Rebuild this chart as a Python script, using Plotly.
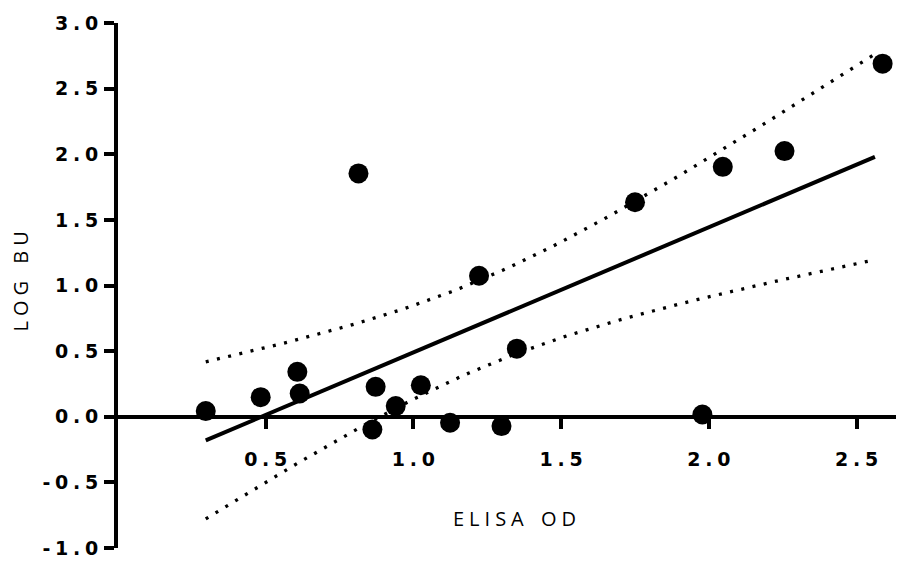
import numpy as np
import plotly.graph_objects as go

# ---- data ----
elisa_od = [0.297, 0.483, 0.607, 0.615, 0.814, 0.872, 0.861, 0.940, 1.025,
            1.124, 1.222, 1.298, 1.350, 1.750, 1.978, 2.047, 2.256, 2.588]
log_bu = [0.043, 0.149, 0.342, 0.177, 1.854, 0.228, -0.097, 0.081, 0.240,
          -0.046, 1.074, -0.071, 0.519, 1.634, 0.017, 1.904, 2.024, 2.690]

# x extent over which the fit and its 95% confidence band are drawn
fit_x_range = [0.297, 2.562]
t95 = 2.1199  # Student t, 95% two-sided, df = n - 2 = 16

x_tickvals = [0.5, 1.0, 1.5, 2.0, 2.5]
x_ticktext = ["0.5", "1.0", "1.5", "2.0", "2.5"]
y_tickvals = [-1.0, -0.5, 0.0, 0.5, 1.0, 1.5, 2.0, 2.5, 3.0]
y_ticktext = ["-1.0", "-0.5", "0.0", "0.5", "1.0", "1.5", "2.0", "2.5", "3.0"]

x_title = "ELISA OD"
y_title = "LOG BU"


# ---- helpers ----
def spaced(s, sp="\u2005", word=" \u2002\u200a"):
    out = []
    for i, ch in enumerate(s):
        if ch == " ":
            out.append(word)
            continue
        out.append(ch)
        if i < len(s) - 1 and s[i + 1] != " ":
            out.append(sp)
    return "".join(out)


# ---- linear regression with 95% confidence band ----
x = np.array(elisa_od)
y = np.array(log_bu)
n = len(x)
slope, intercept = np.polyfit(x, y, 1)
resid = y - (slope * x + intercept)
s = np.sqrt(np.sum(resid ** 2) / (n - 2))
sxx = np.sum((x - x.mean()) ** 2)
xf = np.linspace(fit_x_range[0], fit_x_range[1], 80)
yf = slope * xf + intercept
half = t95 * s * np.sqrt(1.0 / n + (xf - x.mean()) ** 2 / sxx)

fig = go.Figure()
dot_line = dict(color="black", width=3.3, dash="3px,8.5px")
fig.add_trace(go.Scatter(x=xf, y=yf + half, mode="lines", line=dot_line,
                         hoverinfo="skip", showlegend=False))
fig.add_trace(go.Scatter(x=xf, y=yf - half, mode="lines", line=dot_line,
                         hoverinfo="skip", showlegend=False))
fig.add_trace(go.Scatter(x=xf, y=yf, mode="lines",
                         line=dict(color="black", width=4),
                         hoverinfo="skip", showlegend=False))
fig.add_trace(go.Scatter(x=elisa_od, y=log_bu, mode="markers",
                         marker=dict(color="black", size=20, line=dict(width=0)),
                         showlegend=False))

tick_font = dict(family="DejaVu Sans", size=19, color="black", weight="bold")
title_font = dict(family="Open Sans", size=20, color="black")

# page body has an 8px margin: the figure is sized/offset to compensate
fig.update_layout(
    width=896, height=553,
    margin=dict(l=110, r=1, t=15, b=13),
    paper_bgcolor="white", plot_bgcolor="white",
    showlegend=False,
    xaxis=dict(
        range=[0, 2.657], anchor="free", position=0.25,
        showline=True, linecolor="black", linewidth=3.5,
        ticks="outside", ticklen=10, tickwidth=3.5, tickcolor="black",
        tickvals=x_tickvals, ticktext=[spaced(t) for t in x_ticktext],
        tickfont=tick_font, ticklabelstandoff=15,
        showgrid=False, zeroline=False, automargin=False,
        layer="below traces",
    ),
    yaxis=dict(
        range=[-1, 3],
        showline=True, linecolor="black", linewidth=4,
        ticks="outside", ticklen=10, tickwidth=4, tickcolor="black",
        tickvals=y_tickvals, ticktext=[spaced(t) for t in y_ticktext],
        tickfont=tick_font, ticklabelstandoff=2,
        showgrid=False, zeroline=False, automargin=False,
        layer="below traces",
    ),
    annotations=[
        dict(text=spaced(x_title), xref="paper", yref="paper",
             x=0.5045, y=0.0571, xanchor="center", yanchor="middle",
             showarrow=False, font=title_font),
        dict(text=spaced(y_title), xref="paper", yref="paper",
             x=-0.1242, y=0.5067, xanchor="center", yanchor="middle",
             textangle=-90, showarrow=False, font=title_font),
    ],
)

fig.write_html("out.html")
